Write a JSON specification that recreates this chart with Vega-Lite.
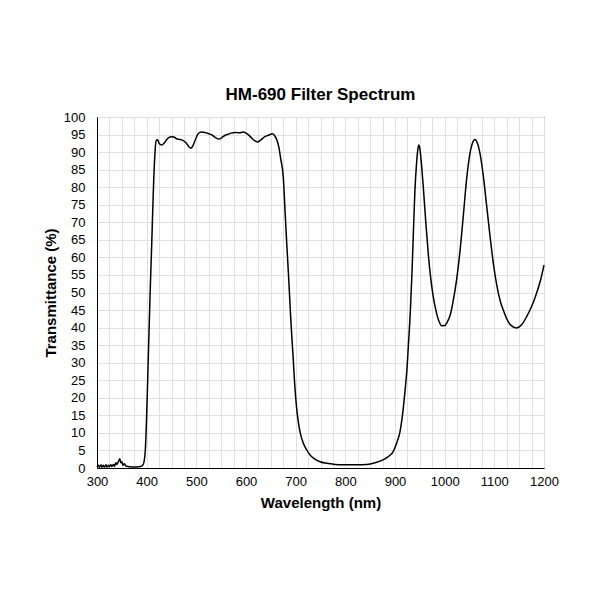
{
  "$schema": "https://vega.github.io/schema/vega-lite/v6.json",
  "title": {"text": "HM-690 Filter Spectrum", "font": "Liberation Sans", "fontSize": 17, "fontWeight": "bold", "color": "#000000", "offset": 7, "anchor": "middle"},
  "description": "HM-690 filter transmittance by wavelength",
  "autosize": "none",
  "width": 447,
  "height": 351,
  "padding": {"left": 97, "top": 117, "right": 56, "bottom": 132},
  "background": "#ffffff",
  "config": {
    "view": {"stroke": "#000000", "strokeWidth": 1},
    "axis": {"labelFont": "Liberation Sans", "titleFont": "Liberation Sans", "labelColor": "#000000", "titleColor": "#000000"}
  },
  "data": {"values": [
    {"wl": 300, "t": 0.3}, {"wl": 303, "t": 0.8}, {"wl": 305, "t": 0.2}, {"wl": 308, "t": 0.9},
    {"wl": 310, "t": 0.2}, {"wl": 313, "t": 0.8}, {"wl": 315, "t": 0.2}, {"wl": 318, "t": 0.9},
    {"wl": 320, "t": 0.2}, {"wl": 323, "t": 0.8}, {"wl": 325, "t": 0.3}, {"wl": 328, "t": 0.9},
    {"wl": 330, "t": 0.4}, {"wl": 333, "t": 1.0}, {"wl": 335, "t": 0.5}, {"wl": 338, "t": 1.5},
    {"wl": 340, "t": 1.0}, {"wl": 343, "t": 1.8}, {"wl": 346, "t": 2.6}, {"wl": 348, "t": 1.5},
    {"wl": 350, "t": 1.8}, {"wl": 352, "t": 0.8}, {"wl": 355, "t": 1.2}, {"wl": 358, "t": 0.6},
    {"wl": 362, "t": 0.4}, {"wl": 370, "t": 0.3}, {"wl": 380, "t": 0.3}, {"wl": 388, "t": 0.4},
    {"wl": 393, "t": 1.0}, {"wl": 397, "t": 4.5}, {"wl": 400, "t": 15}, {"wl": 403, "t": 30},
    {"wl": 407, "t": 50}, {"wl": 410, "t": 63}, {"wl": 413, "t": 77}, {"wl": 416, "t": 88},
    {"wl": 419, "t": 93.2}, {"wl": 422, "t": 93.5}, {"wl": 425, "t": 92.5}, {"wl": 430, "t": 92},
    {"wl": 435, "t": 92.5}, {"wl": 440, "t": 93.5}, {"wl": 445, "t": 94.2}, {"wl": 450, "t": 94.4},
    {"wl": 455, "t": 94.3}, {"wl": 460, "t": 93.8}, {"wl": 467, "t": 93.6}, {"wl": 474, "t": 93.3},
    {"wl": 480, "t": 92.5}, {"wl": 485, "t": 91.5}, {"wl": 489, "t": 91.1}, {"wl": 493, "t": 91.8},
    {"wl": 498, "t": 93.5}, {"wl": 504, "t": 95.3}, {"wl": 510, "t": 95.7}, {"wl": 517, "t": 95.6},
    {"wl": 524, "t": 95.3}, {"wl": 531, "t": 94.9}, {"wl": 538, "t": 94.2}, {"wl": 546, "t": 93.7},
    {"wl": 552, "t": 94.2}, {"wl": 558, "t": 94.8}, {"wl": 564, "t": 95.1}, {"wl": 570, "t": 95.4},
    {"wl": 578, "t": 95.6}, {"wl": 586, "t": 95.5}, {"wl": 595, "t": 95.7}, {"wl": 600, "t": 95.4},
    {"wl": 605, "t": 94.9}, {"wl": 610, "t": 94.2}, {"wl": 617, "t": 93.3}, {"wl": 623, "t": 92.9},
    {"wl": 630, "t": 93.5}, {"wl": 638, "t": 94.4}, {"wl": 645, "t": 94.8}, {"wl": 653, "t": 95.2},
    {"wl": 657, "t": 94.8}, {"wl": 662, "t": 93.5}, {"wl": 666, "t": 91.5}, {"wl": 670, "t": 88},
    {"wl": 675, "t": 83}, {"wl": 678, "t": 75}, {"wl": 682, "t": 64}, {"wl": 686, "t": 54},
    {"wl": 689, "t": 45.5}, {"wl": 692, "t": 38}, {"wl": 695, "t": 31.3}, {"wl": 698, "t": 24},
    {"wl": 702, "t": 17}, {"wl": 706, "t": 12.5}, {"wl": 710, "t": 9.5}, {"wl": 715, "t": 7.2},
    {"wl": 722, "t": 5.2}, {"wl": 729, "t": 3.7}, {"wl": 738, "t": 2.6}, {"wl": 749, "t": 1.8},
    {"wl": 760, "t": 1.4}, {"wl": 775, "t": 1.1}, {"wl": 796, "t": 0.9}, {"wl": 820, "t": 0.9},
    {"wl": 843, "t": 1.0}, {"wl": 860, "t": 1.5}, {"wl": 876, "t": 2.3}, {"wl": 888, "t": 3.4},
    {"wl": 896, "t": 4.6}, {"wl": 903, "t": 7}, {"wl": 910, "t": 10.3}, {"wl": 915, "t": 15},
    {"wl": 920, "t": 21.7}, {"wl": 924, "t": 28}, {"wl": 927, "t": 35}, {"wl": 931, "t": 45},
    {"wl": 934, "t": 55}, {"wl": 937, "t": 67}, {"wl": 940, "t": 78.7}, {"wl": 943, "t": 86},
    {"wl": 946, "t": 90.8}, {"wl": 948, "t": 92}, {"wl": 950, "t": 91}, {"wl": 953, "t": 87},
    {"wl": 957, "t": 80}, {"wl": 962, "t": 70}, {"wl": 967, "t": 61}, {"wl": 972, "t": 54},
    {"wl": 977, "t": 48.8}, {"wl": 983, "t": 44.5}, {"wl": 988, "t": 42}, {"wl": 994, "t": 40.5},
    {"wl": 1000, "t": 40.6}, {"wl": 1006, "t": 41.8}, {"wl": 1011, "t": 43.5}, {"wl": 1017, "t": 47.5},
    {"wl": 1024, "t": 53.6}, {"wl": 1031, "t": 62}, {"wl": 1038, "t": 72.6}, {"wl": 1044, "t": 82},
    {"wl": 1051, "t": 89.7}, {"wl": 1056, "t": 92.6}, {"wl": 1061, "t": 93.6}, {"wl": 1066, "t": 92.5},
    {"wl": 1071, "t": 89.7}, {"wl": 1078, "t": 83}, {"wl": 1084, "t": 75.4}, {"wl": 1091, "t": 66.5},
    {"wl": 1098, "t": 58.3}, {"wl": 1105, "t": 52}, {"wl": 1112, "t": 47.5}, {"wl": 1118, "t": 45},
    {"wl": 1125, "t": 42.5}, {"wl": 1133, "t": 40.7}, {"wl": 1145, "t": 39.9}, {"wl": 1155, "t": 40.8},
    {"wl": 1165, "t": 43.1}, {"wl": 1175, "t": 46}, {"wl": 1185, "t": 49.8}, {"wl": 1193, "t": 53.5},
    {"wl": 1200, "t": 57.8}
  ]},
  "mark": {"type": "line", "color": "#000000", "strokeWidth": 1.5, "interpolate": "monotone"},
  "encoding": {
    "x": {"field": "wl", "type": "quantitative", "title": "Wavelength (nm)",
      "scale": {"domain": [300, 1200], "nice": false, "zero": false},
      "axis": {
        "values": [300, 325, 350, 375, 400, 425, 450, 475, 500, 525, 550, 575, 600, 625, 650, 675, 700, 725, 750, 775, 800, 825, 850, 875, 900, 925, 950, 975, 1000, 1025, 1050, 1075, 1100, 1125, 1150, 1175, 1200],
        "labelExpr": "datum.value % 100 === 0 ? datum.label : ''",
        "labelOverlap": false, "labelFontSize": 13, "labelPadding": 7, "labelFlush": false,
        "ticks": false, "domainColor": "#000000", "domainWidth": 1,
        "gridColor": "#e0e0e0", "gridWidth": 1,
        "titleFontSize": 15, "titleFontWeight": "bold", "titlePadding": 7, "format": "d"
      }
    },
    "y": {"field": "t", "type": "quantitative", "title": "Transmittance (%)",
      "scale": {"domain": [0, 100], "nice": false},
      "axis": {
        "values": [0, 5, 10, 15, 20, 25, 30, 35, 40, 45, 50, 55, 60, 65, 70, 75, 80, 85, 90, 95, 100],
        "labelOverlap": false, "labelFontSize": 13, "labelPadding": 12,
        "ticks": false, "domainColor": "#000000", "domainWidth": 1,
        "gridColor": "#e0e0e0", "gridWidth": 1,
        "titleFontSize": 15, "titleFontWeight": "bold", "titlePadding": 5
      }
    }
  }
}
